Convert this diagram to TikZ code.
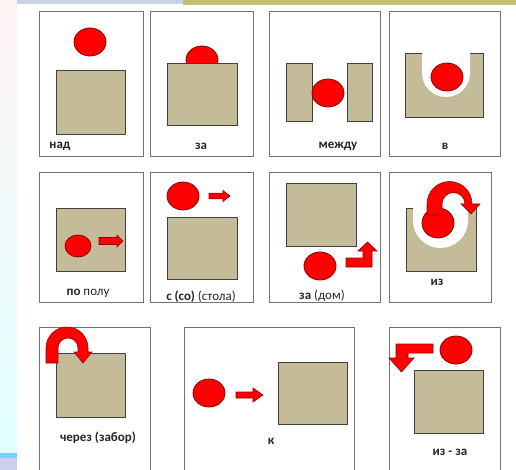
\documentclass[tikz,border=0pt]{standalone}
\usepackage{fontspec}
\setmainfont{Carlito}
\usepackage{tikz}
\definecolor{boxtan}{RGB}{196,188,152}
\definecolor{olivebar}{RGB}{196,190,122}
\definecolor{greybar}{RGB}{200,210,228}
\begin{document}
\begin{tikzpicture}[x=1pt,y=-1pt,
  card/.style={draw=black!55,line width=1pt,fill=white},
  box/.style={draw=black!75,line width=0.8pt,fill=boxtan},
  ball/.style={draw=red!55!black,line width=0.8pt,fill=red},
  blk/.style={draw=red!60!black,line width=0.6pt,fill=red},
  hole/.style={fill=white},
  lbl/.style={font=\fontsize{13}{15}\selectfont\bfseries,text=black!85,inner sep=0pt}]
\useasboundingbox (0,0) rectangle (516,470);
% background:
\path[fill=white] (0,0) rectangle (516,470);
\path[top color=blue!8!red!5,middle color=yellow!10!green!6,bottom color=cyan!12] (0,0) rectangle (17,453);
\path[fill=cyan!35!blue!20] (0,453) rectangle (17,470);
\path[fill=cyan!55] (0,453) rectangle (17,458);
\path[fill=greybar] (17,0) rectangle (183,4);
\path[fill=olivebar] (183,0) rectangle (516,5);
% cards:
\path[card] (39,12) rectangle (143,157);
\path[card] (150,12) rectangle (253,157);
\path[card] (269,12) rectangle (380,157);
\path[card] (389,12) rectangle (500,157);
\path[card] (39,173) rectangle (143,302);
\path[card] (150,173) rectangle (253,302);
\path[card] (269,173) rectangle (380,302);
\path[card] (389,173) rectangle (491,302);
\path[card] (39,474) -- (39,327) -- (150,327) -- (150,474);
\path[card] (184,474) -- (184,327) -- (354,327) -- (354,474);
\path[card] (389,474) -- (389,327) -- (500,327) -- (500,474);
% nad:
\path[ball] (90,42) ellipse [x radius=16,y radius=14];
\path[box] (56,70) rectangle (125,134);
\node[lbl] (nad) at (60,146) {над};
% za:
\path[ball] (202,60) ellipse [x radius=16,y radius=14];
\path[box] (167,63) rectangle (237,125);
\node[lbl] (za) at (201,146) {за};
% mezhdu:
\path[box] (286,63) rectangle (312,121);
\path[box] (347,63) rectangle (372,121);
\path[ball] (328,93) ellipse [x radius=16,y radius=14];
\node[lbl] (mezhdu) at (338,146) {между};
% v:
\path[box] (405,53) rectangle (483,117);
\path[hole] (422,52.4) -- (422,73) arc[start angle=180,end angle=0,radius=24] -- (470,52.4) -- cycle;
\path[ball] (447,77) ellipse [x radius=16,y radius=14];
\node[lbl] (v) at (445,146) {в};
% po polu:
\path[box] (56,208) rectangle (125,271);
\path[ball] (78,246) ellipse [x radius=13,y radius=11];
\path[blk,shift={(99,241)}] (0,-3.5) -- (18,-3.5) -- (18,-6) -- (24,0) -- (18,6) -- (18,3.5) -- (0,3.5) -- cycle;
\node[lbl] (popolu) at (88,293) {по {\mdseries полу}};
% s stola:
\path[ball] (183,196) ellipse [x radius=16,y radius=14];
\path[blk,shift={(209,196)}] (0,-2.8) -- (14,-2.8) -- (14,-5.5) -- (21,0) -- (14,5.5) -- (14,2.8) -- (0,2.8) -- cycle;
\path[box] (167,217) rectangle (237,279);
\node[lbl] (sostola) at (201,297) {с (со) {\mdseries (стола)}};
% za dom:
\path[box] (286,183) rectangle (356,246);
\path[ball] (320,266) ellipse [x radius=16,y radius=14];
\path[blk] (346,258) -- (363,258) -- (363,251) -- (358,251) -- (367.5,242) -- (377,251) -- (372,251) -- (372,267) -- (346,267) -- cycle;
\node[lbl] (zadom) at (322,296) {за {\mdseries (дом)}};
% iz:
\path[box] (406,208) rectangle (476,271);
\path[hole] (413,207.4) -- (413,220.5) arc[start angle=180,end angle=0,radius=27.5] -- (468,207.4) -- cycle;
\path[ball] (438,223) ellipse [x radius=16,y radius=15];
\path[blk] (427,215) -- (427,204) arc[start angle=180,end angle=360,radius=22.5] -- (472,204) -- (480,204) -- (471,214) -- (461,204) -- (465,204) arc[start angle=360,end angle=180,radius=11.5] -- (442,215) -- cycle;
\node[lbl] (iz) at (437,282) {из};
% cherez:
\path[box] (56,353) rectangle (125,417);
\path[blk] (46,363) -- (46,348) arc[start angle=180,end angle=360,radius=21] -- (88,352) -- (92,352) -- (83,363) -- (74,352) -- (78,352) -- (78,348) arc[start angle=360,end angle=180,radius=10] -- (58,363) -- cycle;
\node[lbl] (cherez) at (98,438) {через (забор)};
% k:
\path[ball] (209,393) ellipse [x radius=16,y radius=14];
\path[blk,shift={(236,395)}] (0,-3) -- (17,-3) -- (17,-7) -- (27,0) -- (17,7) -- (17,3) -- (0,3) -- cycle;
\path[box] (278,362) rectangle (347,424);
\node[lbl] (k) at (271,441) {к};
% iz-za:
\path[ball] (456,350) ellipse [x radius=16,y radius=14];
\path[blk] (433,344) -- (396,344) -- (396,358) -- (389,358) -- (401.5,372) -- (414,358) -- (408,358) -- (408,353) -- (433,353) -- cycle;
\path[box] (414,370) rectangle (483,433);
\node[lbl] (izza) at (450,452) {из - за};
\end{tikzpicture}
\end{document}
